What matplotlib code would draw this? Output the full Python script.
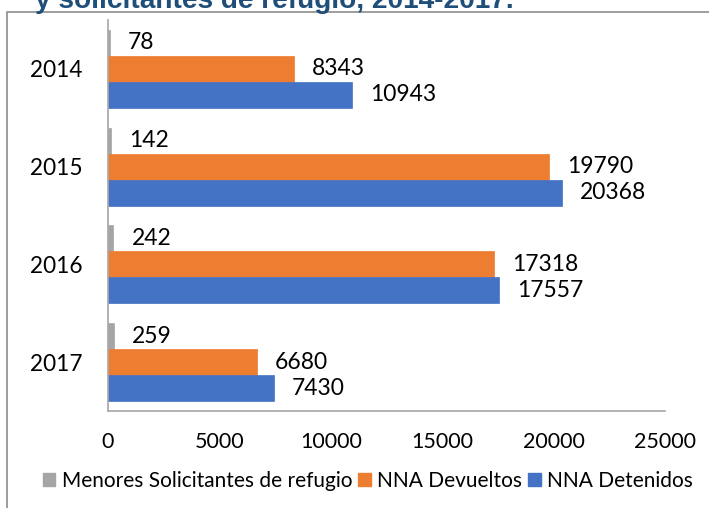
import matplotlib
matplotlib.use("Agg")
import matplotlib.pyplot as plt
from matplotlib.patches import Rectangle, Patch
import numpy as np

years = ["2014", "2015", "2016", "2017"]
solicitantes = [78, 142, 242, 259]
devueltos = [8343, 19790, 17318, 6680]
detenidos = [10943, 20368, 17557, 7430]
series_names = ["Menores Solicitantes de refugio", "NNA Devueltos", "NNA Detenidos"]
xticks = [0, 5000, 10000, 15000, 20000, 25000]
title_text = "y solicitantes de refugio, 2014-2017."

colors = ["#A5A5A5", "#ED7D31", "#4472C4"]
FONT = "Lato"

W, H = 709, 508
fig = plt.figure(figsize=(W / 100, H / 100), dpi=100)

# chart area border (cropped)
fig.patches.append(Rectangle((7 / W, -0.1), 1.2, (H - 12) / H + 0.1, transform=fig.transFigure,
                             fill=False, edgecolor="#8C8C8C", linewidth=1.2))

# title (clipped at top)
fig.text(35 / W, 1 - 8 / H, title_text, ha="left", va="baseline", fontsize=20.2,
         fontweight="bold", color="#1F4E79", family="Liberation Sans")

ax = fig.add_axes([108 / W, (H - 411) / H, (665 - 108) / W, (411 - 20) / H])
y = np.arange(len(years))
bh = 0.266
data = [solicitantes, devueltos, detenidos]
offsets = [-bh, 0, bh]
for vals, off, c in zip(data, offsets, colors):
    ax.barh(y + off, vals, height=bh, color=c, edgecolor=c, linewidth=0.5)

for vals, off in zip(data, offsets):
    for yi, v in zip(y, vals):
        ax.annotate(str(v), (v, yi + off), xytext=(13, 0), textcoords="offset points",
                    ha="left", va="center", fontsize=16.5, family=FONT, color="black")

ax.set_xlim(0, 25000)
ax.set_ylim(3.5, -0.5)
ax.set_xticks(xticks)
ax.set_xticklabels([str(t) for t in xticks], fontsize=15.5, family=FONT)
ax.set_yticks(y)
ax.set_yticklabels(years, fontsize=16.3, family=FONT)
ax.tick_params(axis="both", length=0, pad=15)
ax.tick_params(axis="y", pad=18.5)
for s in ["top", "right"]:
    ax.spines[s].set_visible(False)
for s in ["left", "bottom"]:
    ax.spines[s].set_color("#A6A6A6")
    ax.spines[s].set_linewidth(1.2)

handles = [Patch(facecolor=c, edgecolor=c) for c in colors]
fig.legend(handles, series_names, loc="center", bbox_to_anchor=(368 / W, 1 - 481 / H),
           ncol=3, frameon=False, prop={"family": FONT, "size": 15},
           handlelength=0.6, handleheight=0.6, handletextpad=0.3, columnspacing=0.3)

fig.savefig("out.png", dpi=100)
